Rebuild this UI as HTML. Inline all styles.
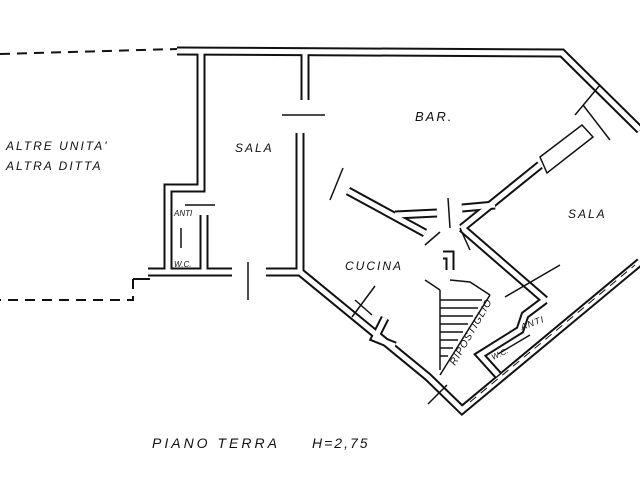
<!DOCTYPE html>
<html><head><style>
html,body{margin:0;padding:0;background:#fff;width:640px;height:480px;overflow:hidden}
svg text{font-family:"Liberation Sans",sans-serif;font-style:italic;fill:#111}
</style></head><body>
<svg width="640" height="480" viewBox="0 0 640 480" xmlns="http://www.w3.org/2000/svg">
<path d="M0 54 L177 49" fill="none" stroke="#111" stroke-width="2" stroke-dasharray="10,7"/>
<path d="M133 279 L133 300 L0 300" fill="none" stroke="#111" stroke-width="2" stroke-dasharray="10,7"/>
<path d="M133 279 L150 279" stroke="#111" stroke-width="2"/>
<g fill="none" stroke="#111" stroke-width="9">
<path d="M177 51 L562 53 L640 130"/>
<path d="M201 53 L201 188 L168 188 L168 272 L148 272"/>
<path d="M168 272 L232 272 M266 272 L300 272"/>
<path d="M305 53 L305 100"/>
<path d="M300 133 L300 272 L428 377 L462 410 L640 262"/>
<path d="M462 228 L540 165"/>
<path d="M462 228 L545 300"/>
<path d="M204 215 L204 272"/>
<path d="M348 191 L425 233"/>
<path d="M395 215 L437 213"/>
<path d="M495 205 L462 208"/>
<path d="M443 255 L450 255 L450 270"/>
<path d="M545 300 L525 315 L520 330 L480 355 L498 375"/>
<path d="M385 318 L375 338 L395 346"/>
</g>
<g fill="none" stroke="#fff" stroke-width="5">
<path d="M177 51 L562 53 L640 130"/>
<path d="M201 53 L201 188 L168 188 L168 272 L148 272"/>
<path d="M168 272 L232 272 M266 272 L300 272"/>
<path d="M305 53 L305 100"/>
<path d="M300 133 L300 272 L428 377 L462 410 L640 262"/>
<path d="M462 228 L540 165"/>
<path d="M462 228 L545 300"/>
<path d="M204 215 L204 272"/>
<path d="M348 191 L425 233"/>
<path d="M395 215 L437 213"/>
<path d="M495 205 L462 208"/>
<path d="M443 255 L450 255 L450 270"/>
<path d="M545 300 L525 315 L520 330 L480 355 L498 375"/>
<path d="M385 318 L375 338 L395 346"/>
</g>
<g fill="none" stroke="#111" stroke-width="1.5">
<path d="M540 157 L582 125 L593 137 L547 173 Z" fill="#fff"/>
<path d="M282 115 L325 115"/>
<path d="M185 205 L215 205"/>
<path d="M181 228 L181 248"/>
<path d="M248 262 L248 300"/>
<path d="M343 168 L330 200"/>
<path d="M448 198 L450 228"/>
<path d="M425 245 L440 232 M460 228 L470 250"/>
<path d="M355 300 L372 315"/>
<path d="M352 317 L375 286"/>
<path d="M425 280 L440 290"/>
<path d="M600 85 L575 115"/>
<path d="M583 105 L610 140"/>
<path d="M505 297 L560 265"/>
<path d="M428 404 L447 385"/>
<path d="M498 354 L530 335"/>
<path d="M440 375 L490 295"/>
<path d="M450 280 L470 282 L490 295"/>
<path d="M440 300 L482 300 M440 308 L478 308 M440 316 L473 316 M440 324 L468 324 M440 332 L463 332 M440 340 L458 340 M440 348 L453 348 M440 356 L448 356"/>
<path d="M440 290 L440 370"/>
<path d="M470 402 L635 265" stroke-dasharray="8,6" stroke-width="1"/>
</g>
<text x="6" y="150" font-size="12" letter-spacing="2">ALTRE UNITA'</text>
<text x="6" y="170" font-size="12" letter-spacing="2">ALTRA DITTA</text>
<text x="235" y="152" font-size="12" letter-spacing="2">SALA</text>
<text x="415" y="121" font-size="13" letter-spacing="2">BAR.</text>
<text x="345" y="270" font-size="12" letter-spacing="2">CUCINA</text>
<text x="568" y="218" font-size="12" letter-spacing="2">SALA</text>
<text x="174" y="216" font-size="8">ANTI</text>
<text x="174" y="267" font-size="8">W.C.</text>
<text x="0" y="0" font-size="10" letter-spacing="1" transform="translate(455 366) rotate(-60)">RIPOSTIGLIO</text>
<text x="0" y="0" font-size="9" letter-spacing="1" transform="translate(522 330) rotate(-20)">ANTI</text>
<text x="0" y="0" font-size="8" transform="translate(493 360) rotate(-25)">W.C.</text>
<text x="152" y="448" font-size="14" letter-spacing="3">PIANO  TERRA</text>
<text x="312" y="448" font-size="14" letter-spacing="2">H=2,75</text>
</svg>
</body></html>
